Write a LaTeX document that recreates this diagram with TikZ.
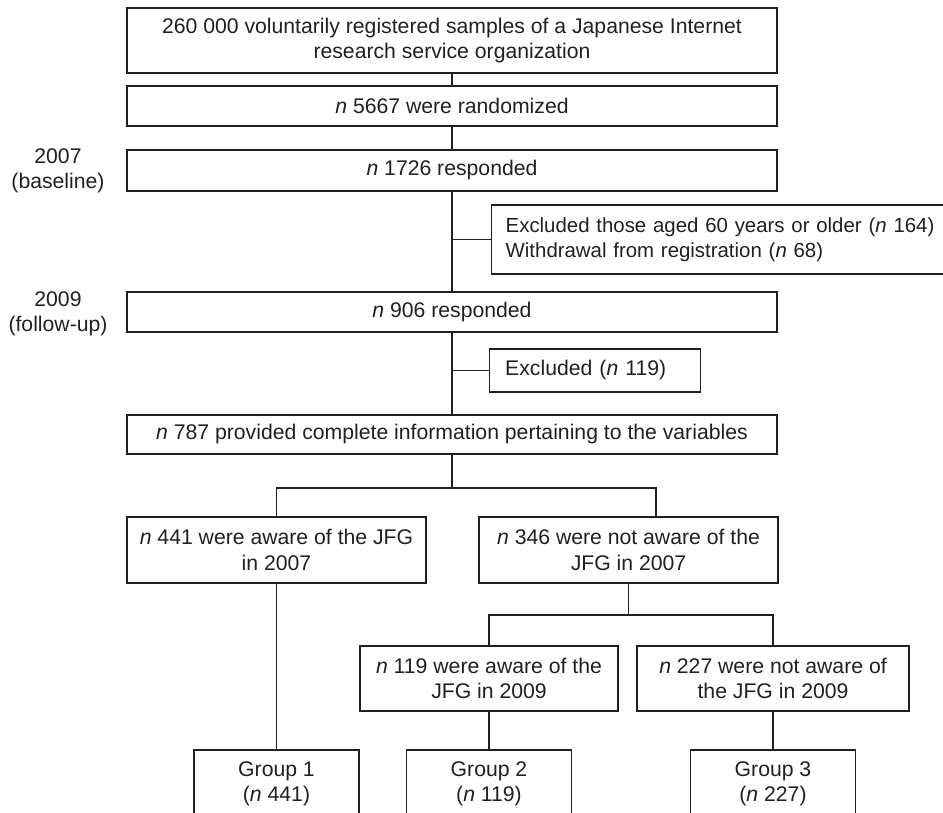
\documentclass[tikz,border=0pt]{standalone}
\usepackage{fontspec}
\setmainfont{Liberation Sans}
\definecolor{ink}{RGB}{35,31,32}
\begin{document}
\begin{tikzpicture}[x=1pt,y=-1pt,
  box/.style={draw=ink, line width=1.4pt, rectangle, inner sep=0pt, align=center,
    font=\fontsize{21.2}{25.5}\selectfont, text=ink},
  lbl/.style={inner sep=0pt, align=center, font=\fontsize{21.2}{25}\selectfont, text=ink},
  link/.style={draw=ink, line width=1.8pt}]
\useasboundingbox (0,0) rectangle (943,812);

\node[box, minimum width=650pt, minimum height=65pt] (b1) at (452,40.5)
  {260 000 voluntarily registered samples of a Japanese Internet\\research service organization};
\node[box, minimum width=650pt, minimum height=40pt] (b2) at (452,106)
  {\textit{n} 5667 were randomized};
\node[box, minimum width=650pt, minimum height=41pt] (b3) at (452,170.5)
  {\textit{n} 1726 responded};
\node[lbl] (y1) at (58,171) {2007\\(baseline)};

\node[box, anchor=west, text width=470pt, align=left, inner xsep=14pt, minimum height=69pt,
  font=\fontsize{20.4}{25.5}\selectfont] (ex1) at (491,239.5)
  {Excluded those aged 60 years or older (\textit{n} 164)\\Withdrawal from registration (\textit{n} 68)};

\node[box, minimum width=650pt, minimum height=40pt] (b4) at (452,312)
  {\textit{n} 906 responded};
\node[lbl] (y2) at (58,314) {2009\\(follow-up)};

\node[box, anchor=west, text width=180pt, align=left, inner xsep=15.5pt, minimum height=43pt] (ex2) at (489,370.5)
  {Excluded (\textit{n} 119)};

\node[box, minimum width=650pt, minimum height=39pt] (b5) at (452,434.5)
  {\textit{n} 787 provided complete information pertaining to the variables};

\node[box, minimum width=299pt, minimum height=66pt] (b6) at (276.5,550)
  {\textit{n} 441 were aware of the JFG\\in 2007};
\node[box, minimum width=299pt, minimum height=66pt] (b7) at (628.5,550)
  {\textit{n} 346 were not aware of the\\JFG in 2007};

\node[box, minimum width=258pt, minimum height=65pt] (b8) at (489,678.5)
  {\textit{n} 119 were aware of the\\JFG in 2009};
\node[box, minimum width=272pt, minimum height=65pt] (b9) at (773,678.5)
  {\textit{n} 227 were not aware of\\the JFG in 2009};

\node[box, minimum width=165pt, minimum height=68pt] (g1) at (276.5,784)
  {Group 1\\(\textit{n} 441)};
\node[box, minimum width=165pt, minimum height=68pt] (g2) at (489,784)
  {Group 2\\(\textit{n} 119)};
\node[box, minimum width=165pt, minimum height=68pt] (g3) at (773,784)
  {Group 3\\(\textit{n} 227)};

\draw[link] (b1) -- (b2);
\draw[link] (b2) -- (b3);
\draw[link] (b3) -- (b4);
\draw[link] (ex1.west) -- (ex1.west -| b3.south);
\draw[link] (b4) -- (b5);
\draw[link] (ex2.west) -- (ex2.west -| b4.south);

\coordinate (j1) at (452,488);
\coordinate (j1r) at (656,488);
\draw[link] (b5) -- (j1);
\draw[link] (b6.north) |- (j1r) -- (j1r |- b7.north);

\coordinate (j2) at (628.5,615);
\draw[link] (b7) -- (j2);
\draw[link] (b8.north) |- (j2) -| (b9.north);

\draw[link] (b6) -- (g1);
\draw[link] (b8) -- (g2);
\draw[link] (b9) -- (g3);
\end{tikzpicture}
\end{document}
